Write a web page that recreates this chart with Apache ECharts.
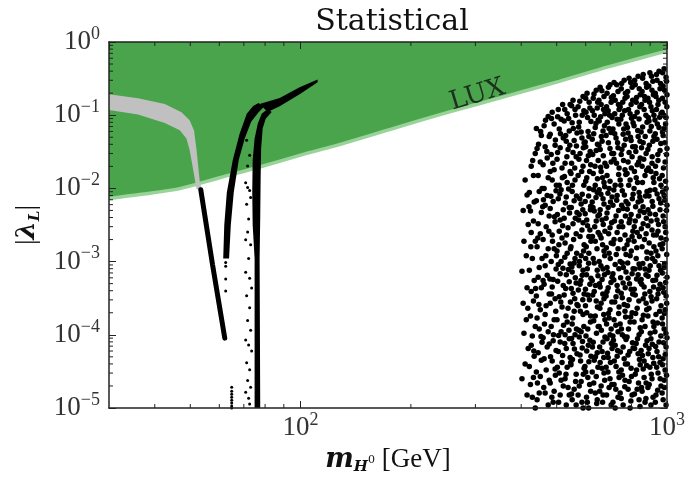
<!DOCTYPE html>
<html><head><meta charset="utf-8">
<script src="https://cdn.jsdelivr.net/npm/echarts@6/dist/echarts.min.js"></script>
<style>html,body{margin:0;padding:0;background:#fff}#c{width:688px;height:480px}</style>
</head><body><div id="c"></div>
<script>
// ---- axis ranges ----
const xMin = 30, xMax = 1000, yMin = 1e-5, yMax = 1;
// ---- LUX upper limit (boundary of the green excluded region) ----
const luxCurve = [[30,0.0073],[36.4,0.00826],[46.8,0.00994],[60.1,0.01397],[77.3,0.0196],[100,0.0285],[131,0.0413],[186,0.0699],[255,0.111],[373,0.188],[508,0.290],[695,0.461],[1000,0.757]];
const luxLabel = [[304, 0.188]];
// ---- grey band (upper and lower edges, left to right) ----
const greyUpper = [[30,0.194],[36,0.171],[42.6,0.142],[47.3,0.110],[49.8,0.085],[51.2,0.062],[52.0,0.0335],[53.1,0.012],[53.8,0.0097]];
const greyLower = [[30,0.118],[36,0.102],[42.6,0.0783],[46.8,0.0623],[48.8,0.0482],[49.8,0.0335],[50.9,0.0181],[52.0,0.0097]];
// ---- black allowed branches ----
const descLine = [[53.4,0.0096],[57.5,9.1e-4],[62.1,9.0e-5]];
const leftBranch = [[61.5,1.10e-3],[61.9,3.16e-3],[62.9,8.78e-3],[65.3,0.0244],[68.2,0.0562],[71.3,0.1044],[74.2,0.1338],[76.8,0.1468],[79.3,0.1297],[76.6,0.1077],[73.3,0.0815],[70.4,0.0482],[67.8,0.0244],[65.7,8.78e-3],[64.5,3.16e-3],[63.8,1.10e-3]];
const rightBranch = [[74.9,1e-5],[74.9,1.10e-3],[74.0,3.16e-3],[73.8,8.78e-3],[74.0,0.0244],[74.9,0.0482],[76.4,0.0766],[78.3,0.1044],[81.3,0.1219],[83.4,0.1110],[80.3,0.0894],[78.8,0.0657],[78.05,0.0354],[77.8,0.01397],[77.6,4.05e-3],[77.3,1.10e-3],[77.6,1e-5]];
const tailBranch = [[77.3,0.1423],[87.7,0.1714],[99.4,0.2408],[111.3,0.3084],[111.3,0.2812],[99.4,0.194],[87.7,0.133],[81.3,0.111]];
const sparseDots = [[71.25,0.0453],[72.61,0.02847],[71.70,0.02025],[70.81,0.01197],[71.70,0.01025],[72.61,0.00934],[73.06,0.00752],[71.25,0.00606],[72.15,0.00381],[71.70,0.002546],[70.81,0.001988],[73.06,0.001702],[72.15,0.001104],[70.81,7.16e-4],[72.61,5.94e-4],[73.52,4.36e-4],[71.25,3.41e-4],[72.61,2.35e-4],[71.70,1.571e-4],[73.06,1.153e-4],[70.81,8.46e-5],[72.15,7.25e-5],[73.52,6.02e-5],[71.25,4.15e-5],[72.61,3.34e-5],[71.70,2.38e-5],[73.06,1.915e-5],[70.81,1.641e-5],[72.15,1.362e-5],[72.61,1.13e-5],
  [62.46,9.75e-4],[62.46,8.62e-4],[62.46,5.77e-4],[62.46,3.98e-4],
  [64.86,1.915e-5],[64.86,1.692e-5],[64.86,1.542e-5],[64.86,1.405e-5],[64.86,1.281e-5],[64.86,1.167e-5],[64.86,1.064e-5],[64.86,1.0e-5]];
// ---- high-mass scan points ----
const cloud = [
[410,1.3e-2],[415,8.1e-3],[405,5.0e-3],[418,3.2e-3],[407,1.9e-3],[413,1.2e-3],[402,7.4e-4],[415,4.4e-4],[405,2.7e-4],[413,1.6e-4],[407,1.05e-4],[418,6.5e-5],[410,4.0e-5],[402,2.5e-5],[415,1.5e-5],
[437,3.0e-2],[426,2.0e-2],[432,1.5e-2],[421,8.8e-3],[434,6.5e-3],[424,4.9e-3],[432,3.6e-3],[426,2.5e-3],[437,1.9e-3],[429,1.1e-3],[421,7.6e-4],[434,5.5e-4],[426,3.9e-4],[432,2.9e-4],[424,1.8e-4],[437,1.3e-4],[429,9.6e-5],[426,7.2e-5],[434,5.1e-5],[421,3.7e-5],[432,2.6e-5],[424,2.1e-5],[429,1.4e-5],[437,1.0e-5],
[440,6.6e-2],[454,5.3e-2],[442,3.5e-2],[451,2.3e-2],[445,1.5e-2],[456,1.0e-2],[448,9.1e-3],[440,6.8e-3],[454,4.7e-3],[445,3.3e-3],[451,2.4e-3],[442,1.6e-3],[456,1.1e-3],[448,8.3e-4],[445,6.1e-4],[454,4.4e-4],[440,3.4e-4],[451,2.2e-4],[442,1.7e-4],[448,1.2e-4],[456,7.9e-5],[445,5.7e-5],[454,4.5e-5],[440,3.1e-5],[451,2.7e-5],[448,1.6e-5],[442,1.3e-5],
[474,9.6e-2],[462,7.2e-2],[477,5.1e-2],[465,3.7e-2],[471,2.6e-2],[459,2.1e-2],[474,1.4e-2],[462,1.0e-2],[471,8.0e-3],[465,5.9e-3],[477,4.2e-3],[468,3.0e-3],[459,2.0e-3],[474,1.5e-3],[465,8.8e-4],[471,6.5e-4],[462,4.9e-4],[477,3.6e-4],[468,2.5e-4],[465,1.9e-4],[474,1.1e-4],[459,9.1e-5],[471,6.8e-5],[462,4.7e-5],[468,3.3e-5],[477,2.4e-5],[465,1.6e-5],[474,1.1e-5],
[486,1.1e-1],[492,7.6e-2],[480,5.5e-2],[495,3.9e-2],[483,2.9e-2],[492,1.8e-2],[486,1.3e-2],[498,9.3e-3],[489,6.6e-3],[480,5.3e-3],[495,3.5e-3],[486,2.3e-3],[492,1.5e-3],[483,1.0e-3],[498,7.9e-4],[489,5.7e-4],[486,4.5e-4],[495,3.1e-4],[480,2.7e-4],[492,1.6e-4],[483,1.3e-4],[489,8.3e-5],[498,6.1e-5],[486,4.4e-5],[495,3.4e-5],[480,2.2e-5],[492,1.7e-5],[489,1.2e-5],
[505,1.2e-1],[514,8.8e-2],[508,6.5e-2],[521,4.9e-2],[511,3.6e-2],[501,2.5e-2],[517,1.9e-2],[508,1.1e-2],[514,9.6e-3],[505,7.2e-3],[521,5.1e-3],[511,3.7e-3],[508,2.6e-3],[517,2.1e-3],[501,1.4e-3],[514,1.0e-3],[505,9.1e-4],[511,6.8e-4],[521,4.7e-4],[508,3.3e-4],[517,2.4e-4],[501,1.6e-4],[514,1.1e-4],[511,8.0e-5],[505,5.9e-5],[517,4.2e-5],[508,3.0e-5],[521,2.0e-5],[511,1.5e-5],
[544,1.4e-1],[534,1.05e-1],[524,8.3e-2],[541,6.1e-2],[531,4.4e-2],[537,3.4e-2],[527,2.2e-2],[544,1.7e-2],[534,1.2e-2],[531,7.6e-3],[541,5.5e-3],[524,3.9e-3],[537,2.9e-3],[527,1.8e-3],[534,1.3e-3],[544,9.3e-4],[531,6.6e-4],[541,5.3e-4],[524,3.5e-4],[537,2.3e-4],[534,1.5e-4],[527,1.0e-4],[541,8.8e-5],[531,6.5e-5],[544,4.9e-5],[534,3.6e-5],[527,2.5e-5],[537,1.9e-5],[531,1.1e-5],
[554,1.6e-1],[561,1.2e-1],[551,7.9e-2],[568,5.7e-2],[558,4.5e-2],[554,3.1e-2],[565,2.7e-2],[547,1.6e-2],[561,1.3e-2],[551,9.1e-3],[558,6.8e-3],[568,4.7e-3],[554,3.3e-3],[565,2.4e-3],[547,1.6e-3],[561,1.1e-3],[558,9.6e-4],[551,7.2e-4],[565,5.1e-4],[554,3.7e-4],[568,2.6e-4],[558,2.1e-4],[551,1.4e-4],[561,1.0e-4],[554,7.6e-5],[568,5.5e-5],[547,3.9e-5],[565,2.9e-5],[558,1.8e-5],[551,1.3e-5],
[590,1.8e-1],[572,1.3e-1],[587,1.0e-1],[576,8.0e-2],[583,5.9e-2],[594,4.2e-2],[579,3.0e-2],[590,2.0e-2],[572,1.5e-2],[587,8.3e-3],[583,6.1e-3],[576,4.4e-3],[590,3.4e-3],[579,2.2e-3],[594,1.7e-3],[583,1.2e-3],[576,8.8e-4],[587,6.5e-4],[579,4.9e-4],[594,3.6e-4],[572,2.5e-4],[590,1.9e-4],[583,1.1e-4],[576,9.3e-5],[587,6.6e-5],[579,5.3e-5],[594,3.5e-5],[583,2.3e-5],[572,1.5e-5],[590,1.0e-5],
[605,2.0e-1],[613,1.5e-1],[601,1.1e-1],[620,8.2e-2],[609,6.0e-2],[598,4.3e-2],[617,3.2e-2],[603,2.4e-2],[615,1.7e-2],[600,1.25e-2],[611,7.9e-3],[619,5.7e-3],[598,4.5e-3],[607,3.1e-3],[616,2.7e-3],[602,1.6e-3],[612,1.3e-3],[606,8.0e-4],[620,5.9e-4],[599,4.2e-4],[614,3.0e-4],[604,2.0e-4],[618,1.5e-4],[601,9.6e-5],[610,7.2e-5],[620,5.1e-5],[597,3.7e-5],[608,2.6e-5],[615,2.1e-5],[603,1.4e-5],[611,1.0e-5],
[641,2.2e-1],[629,1.7e-1],[645,1.25e-1],[633,1.0e-1],[649,8.6e-2],[637,6.8e-2],[625,4.7e-2],[641,3.3e-2],[649,2.4e-2],[629,1.6e-2],[637,1.1e-2],[645,8.8e-3],[625,6.5e-3],[633,4.9e-3],[641,3.6e-3],[649,2.5e-3],[637,1.9e-3],[629,1.1e-3],[645,7.6e-4],[625,5.5e-4],[633,3.9e-4],[641,2.9e-4],[637,1.8e-4],[649,1.3e-4],[629,7.9e-5],[645,5.7e-5],[633,4.5e-5],[625,3.1e-5],[641,2.7e-5],[637,1.6e-5],[645,1.3e-5],
[657,2.4e-1],[673,1.8e-1],[661,1.4e-1],[677,1.05e-1],[653,8.3e-2],[669,6.1e-2],[665,4.4e-2],[657,3.4e-2],[677,2.2e-2],[661,1.7e-2],[673,1.2e-2],[653,9.6e-3],[669,7.2e-3],[657,5.1e-3],[665,3.7e-3],[677,2.6e-3],[661,2.1e-3],[673,1.4e-3],[653,1.0e-3],[669,7.9e-4],[665,5.7e-4],[657,4.5e-4],[673,3.1e-4],[661,2.7e-4],[677,1.6e-4],[653,1.3e-4],[669,8.0e-5],[665,5.9e-5],[657,4.2e-5],[673,3.0e-5],[661,2.0e-5],[669,1.5e-5],
[699,2.6e-1],[686,2.0e-1],[704,1.5e-1],[691,1.15e-1],[708,9.3e-2],[695,6.6e-2],[682,5.3e-2],[699,3.5e-2],[704,2.3e-2],[686,1.5e-2],[695,1.0e-2],[708,7.6e-3],[691,5.5e-3],[682,3.9e-3],[699,2.9e-3],[704,1.8e-3],[695,1.3e-3],[686,8.3e-4],[708,6.1e-4],[691,4.4e-4],[682,3.4e-4],[699,2.2e-4],[695,1.7e-4],[704,1.2e-4],[686,8.8e-5],[708,6.5e-5],[691,4.9e-5],[682,3.6e-5],[699,2.5e-5],[695,1.9e-5],[704,1.1e-5],
[717,2.8e-1],[735,2.1e-1],[722,1.6e-1],[740,1.2e-1],[731,8.8e-2],[712,6.5e-2],[726,4.9e-2],[735,3.6e-2],[717,2.5e-2],[740,1.9e-2],[722,1.1e-2],[731,8.0e-3],[712,5.9e-3],[726,4.2e-3],[740,3.0e-3],[717,2.0e-3],[735,1.5e-3],[722,9.1e-4],[712,6.8e-4],[731,4.7e-4],[726,3.3e-4],[740,2.4e-4],[717,1.6e-4],[735,1.1e-4],[712,9.6e-5],[722,7.2e-5],[731,5.1e-5],[726,3.7e-5],[740,2.6e-5],[717,2.1e-5],[735,1.4e-5],[722,1.0e-5],
[764,3.0e-1],[750,2.3e-1],[768,1.7e-1],[745,1.3e-1],[755,1.0e-1],[773,7.6e-2],[759,5.5e-2],[764,3.9e-2],[750,2.9e-2],[768,1.8e-2],[745,1.3e-2],[755,9.3e-3],[773,6.6e-3],[759,5.3e-3],[750,3.5e-3],[768,2.3e-3],[764,1.5e-3],[745,1.0e-3],[755,9.6e-4],[773,7.2e-4],[759,5.1e-4],[750,3.7e-4],[764,2.6e-4],[768,2.1e-4],[745,1.4e-4],[755,1.0e-4],[773,8.6e-5],[759,6.8e-5],[764,4.7e-5],[750,3.3e-5],[768,2.4e-5],[745,1.6e-5],[759,1.1e-5],
[788,3.2e-1],[803,2.4e-1],[778,1.8e-1],[798,1.4e-1],[793,1.05e-1],[808,7.9e-2],[783,5.7e-2],[798,4.5e-2],[788,3.1e-2],[803,2.7e-2],[778,1.6e-2],[793,1.3e-2],[808,8.3e-3],[783,6.1e-3],[798,4.4e-3],[788,3.4e-3],[803,2.2e-3],[778,1.7e-3],[793,1.2e-3],[808,8.0e-4],[783,5.9e-4],[798,4.2e-4],[788,3.0e-4],[803,2.0e-4],[793,1.5e-4],[778,9.3e-5],[808,6.6e-5],[783,5.3e-5],[798,3.5e-5],[788,2.3e-5],[803,1.5e-5],[793,1.0e-5],
[834,3.4e-1],[819,2.6e-1],[845,1.9e-1],[824,1.5e-1],[829,1.1e-1],[839,8.9e-2],[813,7.2e-2],[834,5.1e-2],[819,3.7e-2],[845,2.6e-2],[829,2.1e-2],[824,1.4e-2],[813,1.0e-2],[839,8.8e-3],[834,6.5e-3],[845,4.9e-3],[819,3.6e-3],[829,2.5e-3],[813,1.9e-3],[824,1.1e-3],[839,9.3e-4],[834,6.6e-4],[845,5.3e-4],[819,3.5e-4],[829,2.3e-4],[813,1.5e-4],[839,1.0e-4],[824,7.6e-5],[834,5.5e-5],[845,3.9e-5],[819,2.9e-5],[829,1.8e-5],[839,1.3e-5],
[861,3.6e-1],[877,2.7e-1],[855,2.1e-1],[871,1.6e-1],[866,1.2e-1],[882,8.0e-2],[850,5.9e-2],[861,4.2e-2],[877,3.0e-2],[855,2.0e-2],[871,1.5e-2],[882,9.1e-3],[850,6.8e-3],[866,4.7e-3],[861,3.3e-3],[877,2.4e-3],[855,1.6e-3],[882,1.1e-3],[871,7.9e-4],[850,5.7e-4],[866,4.5e-4],[861,3.1e-4],[877,2.7e-4],[855,1.6e-4],[871,1.3e-4],[882,8.3e-5],[850,6.1e-5],[866,4.4e-5],[861,3.4e-5],[877,2.2e-5],[855,1.7e-5],[871,1.2e-5],
[898,3.8e-1],[915,2.9e-1],[910,2.2e-1],[887,1.7e-1],[904,1.3e-1],[921,1.0e-1],[893,8.3e-2],[898,6.1e-2],[915,4.4e-2],[887,3.4e-2],[910,2.2e-2],[904,1.7e-2],[921,1.2e-2],[893,7.9e-3],[915,5.7e-3],[898,4.5e-3],[887,3.1e-3],[910,2.7e-3],[921,1.6e-3],[904,1.3e-3],[893,7.6e-4],[915,5.5e-4],[898,3.9e-4],[910,2.9e-4],[887,1.8e-4],[921,1.3e-4],[904,8.8e-5],[893,6.5e-5],[915,4.9e-5],[898,3.6e-5],[910,2.5e-5],[887,1.9e-5],[904,1.1e-5],
[951,4.0e-1],[939,3.0e-1],[957,2.3e-1],[933,1.8e-1],[945,1.4e-1],[963,1.05e-1],[927,8.6e-2],[951,6.8e-2],[939,4.7e-2],[957,3.3e-2],[945,2.4e-2],[933,1.6e-2],[963,1.1e-2],[927,9.6e-3],[951,7.2e-3],[957,5.1e-3],[939,3.7e-3],[945,2.6e-3],[963,2.1e-3],[933,1.4e-3],[927,1.0e-3],[951,8.8e-4],[939,6.5e-4],[957,4.9e-4],[945,3.6e-4],[963,2.5e-4],[933,1.9e-4],[927,1.1e-4],[951,8.0e-5],[939,5.9e-5],[957,4.2e-5],[945,3.0e-5],[963,2.0e-5],[933,1.5e-5],
[982,4.3e-1],[994,3.3e-1],[976,2.5e-1],[1000,1.9e-1],[988,1.5e-1],[970,1.1e-1],[994,9.3e-2],[982,6.6e-2],[976,5.3e-2],[1000,3.5e-2],[988,2.3e-2],[970,1.5e-2],[994,1.0e-2],[982,8.0e-3],[1000,5.9e-3],[976,4.2e-3],[988,3.0e-3],[994,2.0e-3],[970,1.5e-3],[982,8.3e-4],[1000,6.1e-4],[976,4.4e-4],[994,3.4e-4],[988,2.2e-4],[970,1.7e-4],[982,1.2e-4],[1000,9.1e-5],[994,6.8e-5],[976,4.7e-5],[988,3.3e-5],[982,2.4e-5],[970,1.6e-5],[994,1.1e-5]
];
// ---- extra scan points read between the columns above ----
const cloudExtra = [
[420,5.6e-3],[417,2.3e-4],[430,2.4e-2],[425,1.6e-3],[438,4.3e-4],[433,6.0e-5],
[452,6.0e-2],[446,4.0e-2],[458,5.6e-3],[444,2.1e-3],[459,5.5e-4],[447,2.6e-4],[453,9.5e-5],[443,2.2e-5],
[466,8.5e-2],[470,3.2e-2],[480,1.7e-2],[460,7.0e-3],[476,2.6e-3],[467,1.2e-3],[479,5.8e-4],[463,1.4e-4],[477,7.5e-5],[461,1.9e-5],
[484,9.0e-2],[496,4.6e-2],[488,2.2e-2],[499,1.1e-2],[482,7.8e-3],[493,4.1e-3],[487,1.9e-3],[499,1.2e-3],[484,3.6e-4],[497,2.1e-4],[490,1.0e-4],[481,5.0e-5],[496,2.8e-5],[485,1.4e-5],
[503,9.5e-2],[519,1.4e-1],[512,5.6e-2],[503,3.1e-2],[518,1.4e-2],[510,8.4e-3],[502,4.4e-3],[519,3.1e-3],[507,1.7e-3],[520,8.1e-4],[503,5.4e-4],[513,2.8e-4],[522,1.35e-4],[506,9.8e-5],[519,5.2e-5],[502,3.6e-5],[514,2.4e-5],[506,1.2e-5],
[526,1.2e-1],[539,9.0e-2],[529,5.3e-2],[543,3.9e-2],[533,2.7e-2],[525,1.45e-2],[539,9.8e-3],[528,6.3e-3],[542,4.6e-3],[532,2.3e-3],[545,1.5e-3],[526,1.15e-3],[538,7.8e-4],[529,4.3e-4],[545,2.8e-4],[530,1.8e-4],[540,1.15e-4],[526,7.6e-5],[546,4.2e-5],[530,2.9e-5],[541,1.5e-5],
[549,1.35e-1],[563,1.0e-1],[555,6.6e-2],[566,3.8e-2],[549,2.2e-2],[560,1.9e-2],[552,1.1e-2],[566,7.9e-3],[548,5.5e-3],[562,3.9e-3],[556,2.0e-3],[567,1.3e-3],[550,8.5e-4],[562,6.0e-4],[548,4.3e-4],[560,3.1e-4],[553,1.7e-4],[566,1.2e-4],[549,8.9e-5],[559,6.4e-5],[552,4.6e-5],[563,2.3e-5],[549,1.55e-5],[565,1.1e-5],
[578,1.55e-1],[593,1.15e-1],[574,6.9e-2],[586,4.9e-2],[591,3.6e-2],[575,2.5e-2],[585,1.7e-2],[593,1.1e-2],[578,7.2e-3],[589,5.1e-3],[574,3.7e-3],[586,2.7e-3],[592,1.4e-3],[577,1.0e-3],[590,7.6e-4],[582,5.5e-4],[573,4.1e-4],[589,3.0e-4],[580,2.1e-4],[593,1.3e-4],[575,1.15e-4],[588,8.1e-5],[581,4.4e-5],[591,2.9e-5],[576,2.0e-5],[586,1.2e-5],
[600,1.7e-1],[616,1.25e-1],[607,9.3e-2],[612,5.1e-2],[600,3.7e-2],[610,2.8e-2],[619,2.1e-2],[604,1.4e-2],[613,1.0e-2],[598,6.6e-3],[618,5.1e-3],[604,3.7e-3],[612,2.2e-3],[620,1.9e-3],[600,1.1e-3],[611,9.5e-4],[603,6.6e-4],[616,4.9e-4],[608,3.5e-4],[599,2.5e-4],[619,1.8e-4],[608,1.2e-4],[616,8.4e-5],[604,6.0e-5],[612,4.3e-5],[600,3.1e-5],[619,1.7e-5],[606,1.2e-5],
[632,1.95e-1],[647,1.5e-1],[626,1.15e-1],[640,7.7e-2],[631,5.6e-2],[646,4.0e-2],[627,2.9e-2],[636,2.0e-2],[646,1.35e-2],[630,9.6e-3],[640,7.5e-3],[628,5.5e-3],[648,4.2e-3],[635,3.0e-3],[626,2.2e-3],[644,1.5e-3],[633,9.6e-4],[648,6.4e-4],[638,4.7e-4],[627,3.5e-4],[646,2.4e-4],[631,1.55e-4],[642,1.05e-4],[626,6.8e-5],[638,5.0e-5],[648,3.6e-5],[631,2.2e-5],[643,1.15e-5],
[664,2.15e-1],[652,1.6e-1],[671,1.2e-1],[659,9.5e-2],[675,7.2e-2],[662,5.1e-2],[652,3.9e-2],[670,2.8e-2],[659,1.95e-2],[667,1.4e-2],[676,1.05e-2],[660,8.3e-3],[673,6.1e-3],[654,4.4e-3],[670,3.2e-3],[656,2.3e-3],[667,1.7e-3],[676,1.2e-3],[660,8.8e-4],[675,6.6e-4],[654,5.0e-4],[668,3.6e-4],[656,2.3e-4],[672,1.9e-4],[662,1.15e-4],[677,9.3e-5],[655,6.8e-5],[672,4.9e-5],[664,3.5e-5],[676,2.4e-5],[655,1.7e-5],[667,1.2e-5],
[692,2.4e-1],[705,1.75e-1],[684,1.3e-1],[697,1.0e-1],[687,8.0e-2],[703,5.8e-2],[692,4.2e-2],[707,3.0e-2],[684,2.0e-2],[699,1.25e-2],[690,8.6e-3],[701,6.5e-3],[686,4.6e-3],[706,3.4e-3],[693,2.4e-3],[683,1.55e-3],[700,1.1e-3],[690,7.1e-4],[703,5.2e-4],[686,3.9e-4],[707,2.8e-4],[692,1.95e-4],[684,1.4e-4],[699,1.0e-4],[705,7.6e-5],[688,5.6e-5],[701,4.2e-5],[690,3.1e-5],[707,2.1e-5],[684,1.5e-5],
[729,2.6e-1],[714,1.85e-1],[737,1.4e-1],[720,1.05e-1],[739,7.6e-2],[720,5.6e-2],[733,4.2e-2],[715,3.0e-2],[728,2.2e-2],[738,1.55e-2],[716,9.5e-3],[729,6.9e-3],[738,5.0e-3],[719,3.6e-3],[731,2.5e-3],[713,1.75e-3],[727,1.25e-3],[739,8.0e-4],[716,5.6e-4],[734,4.0e-4],[720,2.8e-4],[738,1.95e-4],[725,1.35e-4],[714,8.4e-5],[733,6.1e-5],[718,4.4e-5],[739,3.1e-5],[725,1.8e-5],[712,1.2e-5],
[752,2.7e-1],[770,2.0e-1],[757,1.5e-1],[766,1.15e-1],[748,8.8e-2],[762,6.5e-2],[771,4.7e-2],[753,3.4e-2],[761,2.4e-2],[772,1.55e-2],[748,1.1e-2],[765,8.1e-3],[752,5.9e-3],[770,4.2e-3],[757,3.0e-3],[745,2.0e-3],[773,1.25e-3],[760,8.3e-4],[747,6.0e-4],[769,4.4e-4],[755,3.2e-4],[771,1.75e-4],[751,1.2e-4],[766,9.4e-5],[746,5.8e-5],[770,4.0e-5],[756,2.8e-5],[767,1.95e-5],[750,1.35e-5],
[796,2.8e-1],[781,2.1e-1],[806,1.6e-1],[785,1.2e-1],[800,9.1e-2],[780,6.8e-2],[795,5.0e-2],[806,3.7e-2],[783,2.3e-2],[799,1.9e-2],[786,1.1e-2],[804,7.2e-3],[779,5.2e-3],[792,3.8e-3],[807,2.6e-3],[785,1.95e-3],[799,1.4e-3],[781,9.6e-4],[803,6.8e-4],[790,5.0e-4],[806,3.6e-4],[780,2.5e-4],[796,1.75e-4],[785,1.2e-4],[805,7.8e-5],[791,5.9e-5],[780,4.0e-5],[800,2.7e-5],[783,1.8e-5],[797,1.25e-5],
[816,3.0e-1],[840,2.3e-1],[826,1.75e-1],[843,1.3e-1],[816,9.6e-2],[832,6.2e-2],[844,4.4e-2],[822,3.2e-2],[837,2.3e-2],[815,1.7e-2],[831,1.2e-2],[843,7.6e-3],[821,5.6e-3],[836,4.2e-3],[814,3.0e-3],[841,2.2e-3],[827,1.55e-3],[817,7.9e-4],[843,8.2e-4],[826,5.8e-4],[814,4.2e-4],[838,2.9e-4],[821,1.95e-4],[845,1.25e-4],[831,8.8e-5],[816,6.5e-5],[841,4.6e-5],[826,3.3e-5],[836,2.2e-5],[815,1.55e-5],[844,1.05e-5],
[858,3.2e-1],[880,2.4e-1],[868,1.8e-1],[852,1.4e-1],[876,1.0e-1],[858,6.9e-2],[872,5.1e-2],[852,3.6e-2],[864,2.5e-2],[880,1.75e-2],[857,1.2e-2],[874,7.9e-3],[860,5.6e-3],[878,3.9e-3],[851,2.8e-3],[868,2.0e-3],[881,1.35e-3],[859,9.4e-4],[876,6.6e-4],[853,4.9e-4],[870,3.6e-4],[880,2.2e-4],[862,1.85e-4],[851,1.1e-4],[874,7.2e-5],[857,5.2e-5],[880,3.8e-5],[866,2.6e-5],[852,1.9e-5],[876,1.35e-5],
[907,3.4e-1],[892,2.5e-1],[918,1.9e-1],[896,1.5e-1],[912,1.15e-1],[889,9.3e-2],[906,7.0e-2],[921,5.1e-2],[895,3.9e-2],[911,2.7e-2],[890,1.9e-2],[917,1.4e-2],[899,9.4e-3],[911,6.6e-3],[888,5.1e-3],[905,3.6e-3],[919,2.3e-3],[894,1.8e-3],[913,1.1e-3],[900,8.8e-4],[888,6.3e-4],[919,4.5e-4],[905,3.3e-4],[893,2.3e-4],[916,1.5e-4],[900,1.05e-4],[912,7.4e-5],[889,5.5e-5],[920,4.1e-5],[906,2.9e-5],[894,2.1e-5],[916,1.4e-5],
[936,3.6e-1],[960,2.7e-1],[929,2.0e-1],[950,1.6e-1],[936,1.2e-1],[955,9.4e-2],[941,7.6e-2],[929,5.6e-2],[962,4.1e-2],[944,2.9e-2],[930,2.0e-2],[954,1.35e-2],[940,8.4e-3],[961,6.3e-3],[930,4.4e-3],[948,3.2e-3],[935,2.3e-3],[958,1.7e-3],[944,1.2e-3],[960,7.6e-4],[931,5.6e-4],[948,4.2e-4],[937,3.1e-4],[955,2.1e-4],[942,1.45e-4],[962,9.6e-5],[931,6.9e-5],[949,5.0e-5],[937,3.6e-5],[958,2.5e-5],[943,1.75e-5],[929,1.2e-5],
[973,3.8e-1],[997,2.9e-1],[985,2.2e-1],[972,1.7e-1],[999,1.3e-1],[980,1.0e-1],[991,7.6e-2],[972,5.9e-2],[986,4.2e-2],[997,2.9e-2],[978,1.9e-2],[991,1.25e-2],[973,8.9e-3],[986,6.9e-3],[997,5.0e-3],[979,3.5e-3],[992,2.5e-3],[974,1.75e-3],[998,1.25e-3],[985,9.4e-4],[971,7.0e-4],[991,5.2e-4],[980,3.8e-4],[998,2.7e-4],[984,1.95e-4],[972,1.4e-4],[993,1.05e-4],[979,7.8e-5],[989,5.4e-5],[972,3.9e-5],[997,2.8e-5],[984,1.9e-5],[976,1.3e-5]
];
// ---- minor tick positions ----
const xMinorTicks = [40,50,60,70,80,90,200,300,400,500,600,700,800,900];
const yMinorTicks = [2e-5,3e-5,4e-5,5e-5,6e-5,7e-5,8e-5,9e-5,2e-4,3e-4,4e-4,5e-4,6e-4,7e-4,8e-4,9e-4,2e-3,3e-3,4e-3,5e-3,6e-3,7e-3,8e-3,9e-3,2e-2,3e-2,4e-2,5e-2,6e-2,7e-2,8e-2,9e-2,0.2,0.3,0.4,0.5,0.6,0.7,0.8,0.9];

const GREEN = '#4aa44c', GREEN_EDGE = '#98d398', GREY = '#c0c0c0', INK = '#222';
const serif = 'DejaVu Serif', tickFont = 'Liberation Serif';

function powLabel(v) {
  const e = Math.round(Math.log10(v));
  return '{b|10}{s|' + (e < 0 ? '\u2212' + (-e) : e) + '}';
}
const labelRich = {
  b: { fontFamily: tickFont, fontSize: 27, lineHeight: 34, color: '#333' },
  s: { fontFamily: tickFont, fontSize: 18, lineHeight: 18, verticalAlign: 'top', color: '#333' }
};

function polygonSeries(points, color, z) {
  return {
    type: 'custom', coordinateSystem: 'cartesian2d', clip: true, silent: true, z: z,
    data: [points[0]],
    renderItem: function (params, api) {
      return { type: 'polygon', shape: { points: points.map(function (p) { return api.coord(p); }) }, style: { fill: color } };
    }
  };
}

const chart = echarts.init(document.getElementById('c'), null, { renderer: 'canvas' });

const axisCommon = {
  type: 'log', logBase: 10,
  axisLine: { show: true, lineStyle: { color: INK, width: 1.5 } },
  axisTick: { show: true, inside: true, length: 7, lineStyle: { color: INK, width: 1 } },
  splitLine: { show: false },
  z: 10
};

const dotStyle = { color: '#000', opacity: 1 };

const option = {
  animation: false,
  backgroundColor: '#fff',
  title: {
    text: 'Statistical', left: 387, top: 2, textAlign: 'center',
    textStyle: { fontFamily: serif, fontSize: 30, fontWeight: 'normal', color: '#111' }
  },
  grid: { left: 109, right: 20, top: 42, bottom: 66, containLabel: false },
  xAxis: [
    Object.assign({}, axisCommon, {
      position: 'bottom', min: xMin, max: xMax,
      axisLabel: { formatter: powLabel, rich: labelRich, margin: 3, showMinLabel: false, showMaxLabel: true },
      name: '{m|m}{h|H}{z|0}{g| [GeV]}', nameLocation: 'middle', nameGap: 37,
      nameTextStyle: { rich: {
        m: { fontFamily: serif, fontStyle: 'italic', fontWeight: 'bold', fontSize: 27, lineHeight: 30, color: '#111' },
        h: { fontFamily: serif, fontStyle: 'italic', fontWeight: 'bold', fontSize: 15, lineHeight: 15, verticalAlign: 'bottom', color: '#111' },
        z: { fontFamily: serif, fontSize: 11, lineHeight: 11, verticalAlign: 'bottom', padding: [0, 0, 9, 0], color: '#111' },
        g: { fontFamily: tickFont, fontSize: 27, lineHeight: 30, color: '#111' }
      } }
    }),
    Object.assign({}, axisCommon, { position: 'top', min: xMin, max: xMax, axisLabel: { show: false } })
  ],
  yAxis: [
    Object.assign({}, axisCommon, {
      position: 'left', min: yMin, max: yMax,
      axisLabel: { formatter: powLabel, rich: labelRich, margin: 9 },
      name: '{p||}{l|\u03bb}{s|L}{p||}', nameLocation: 'middle', nameGap: 66,
      nameTextStyle: { rich: {
        p: { fontFamily: tickFont, fontSize: 28, lineHeight: 32, color: '#111' },
        l: { fontFamily: serif, fontStyle: 'italic', fontWeight: 'bold', fontSize: 26, lineHeight: 32, color: '#111' },
        s: { fontFamily: serif, fontStyle: 'italic', fontWeight: 'bold', fontSize: 15, lineHeight: 15, verticalAlign: 'bottom', color: '#111' }
      } }
    }),
    Object.assign({}, axisCommon, { position: 'right', min: yMin, max: yMax, axisLabel: { show: false } })
  ],
  series: [
    { type: 'line', data: luxCurve, symbol: 'none', smooth: 0.3, silent: true, z: 1,
      lineStyle: { color: GREEN_EDGE, width: 3.5 },
      areaStyle: { color: GREEN, opacity: 1, origin: 'end' } },
    polygonSeries(greyUpper.concat(greyLower.slice().reverse()), GREY, 2),
    { type: 'line', data: descLine, symbol: 'none', silent: true, z: 3,
      lineStyle: { color: '#000', width: 5, cap: 'round' } },
    polygonSeries(leftBranch, '#000', 3),
    polygonSeries(rightBranch, '#000', 3),
    polygonSeries(tailBranch, '#000', 3),
    { type: 'scatter', data: sparseDots, symbolSize: 3, silent: true, z: 4, itemStyle: dotStyle },
    { type: 'scatter', data: cloud, symbolSize: 5.5, silent: true, z: 4, itemStyle: dotStyle },
    { type: 'scatter', data: cloudExtra, symbolSize: 5.5, silent: true, z: 4, itemStyle: dotStyle },
    { type: 'scatter', data: luxLabel, symbolSize: 0, silent: true, z: 5,
      label: { show: true, position: 'inside', formatter: 'LUX', rotate: 17,
        fontFamily: serif, fontSize: 26, color: '#111' } },
    { type: 'custom', silent: true, z: 6, data: xMinorTicks.map(function (v) { return [v, yMin]; }),
      renderItem: function (params, api) {
        const cs = params.coordSys;
        const x = api.coord([api.value(0), yMin])[0];
        const b = cs.y + cs.height;
        return { type: 'group', children: [
          { type: 'line', shape: { x1: x, y1: b, x2: x, y2: b - 4 }, style: { stroke: INK, lineWidth: 1 } },
          { type: 'line', shape: { x1: x, y1: cs.y, x2: x, y2: cs.y + 4 }, style: { stroke: INK, lineWidth: 1 } }
        ] };
      } },
    { type: 'custom', silent: true, z: 6, data: yMinorTicks.map(function (v) { return [xMin, v]; }),
      renderItem: function (params, api) {
        const cs = params.coordSys;
        const y = api.coord([xMin, api.value(1)])[1];
        const r = cs.x + cs.width;
        return { type: 'group', children: [
          { type: 'line', shape: { x1: cs.x, y1: y, x2: cs.x + 4, y2: y }, style: { stroke: INK, lineWidth: 1 } },
          { type: 'line', shape: { x1: r, y1: y, x2: r - 4, y2: y }, style: { stroke: INK, lineWidth: 1 } }
        ] };
      } }
  ]
};
chart.setOption(option);
</script>
</body></html>
